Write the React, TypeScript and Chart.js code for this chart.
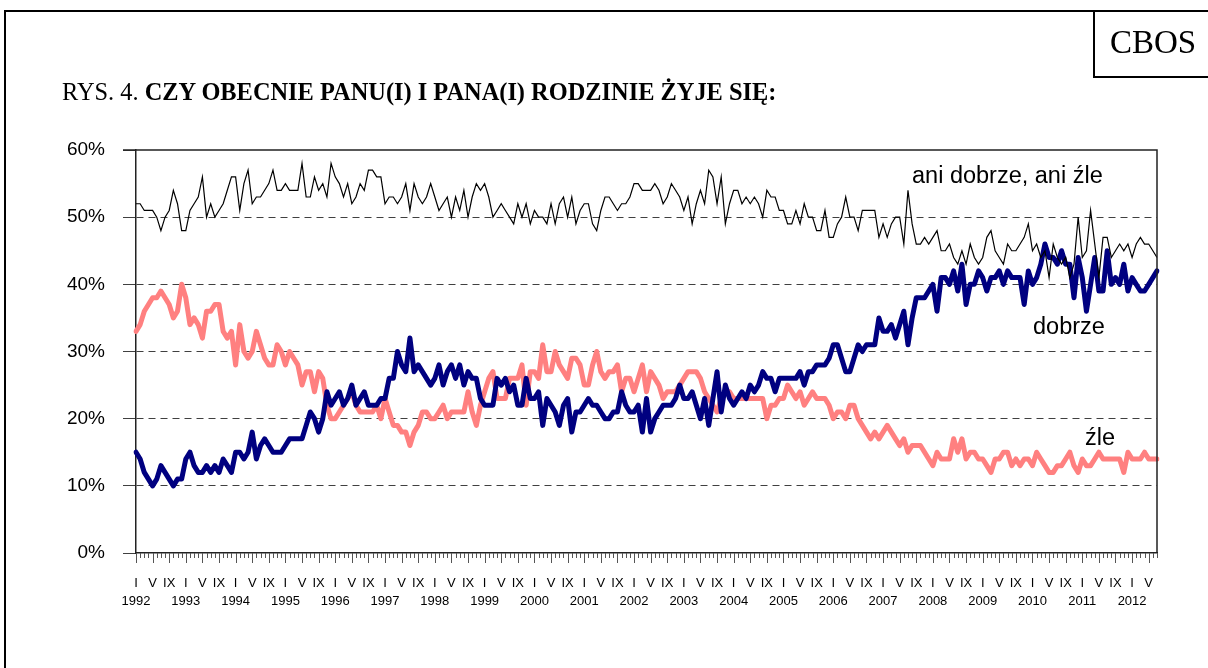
import React, { useEffect, useRef } from 'react';
import { Chart, registerables } from 'chart.js';

Chart.register(...registerables);

const SANS = '"Liberation Sans", Arial, sans-serif';
const SERIF = '"Liberation Serif", "Times New Roman", serif';

const YEARS = ['1992', '1993', '1994', '1995', '1996', '1997', '1998', '1999', '2000', '2001', '2002',
  '2003', '2004', '2005', '2006', '2007', '2008', '2009', '2010', '2011', '2012'];
const MONTH_MARKS = ['I', '', '', '', 'V', '', '', '', 'IX', '', '', ''];
const MONTH_COUNT = 247; // I 1992 .. VII 2012

// "dobrze" (%)
const DOBRZE = [
  15, 14, 12, 11, 10, 11, 13, 12, 11, 10, 11, 11,
  14, 15, 13, 12, 12, 13, 12, 13, 12, 14, 13, 12,
  15, 15, 14, 15, 18, 14, 16, 17, 16, 15, 15, 15,
  16, 17, 17, 17, 17, 19, 21, 20, 18, 20, 24, 22,
  23, 24, 22, 23, 25, 22, 23, 24, 22, 22, 22, 23,
  23, 26, 26, 30, 28, 27, 32, 27, 28, 27, 26, 25,
  26, 28, 25, 27, 28, 26, 28, 25, 27, 26, 26, 23,
  22, 22, 22, 26, 25, 26, 24, 25, 22, 22, 26, 23,
  23, 24, 19, 23, 22, 21, 19, 22, 23, 18, 21, 21,
  22, 23, 22, 22, 21, 20, 20, 21, 21, 24, 22, 21,
  21, 22, 18, 23, 18, 20, 21, 22, 22, 22, 23, 25,
  23, 23, 24, 22, 20, 23, 19, 23, 27, 21, 25, 23,
  22, 23, 24, 23, 25, 24, 25, 27, 26, 26, 24, 26,
  26, 26, 26, 26, 27, 25, 27, 27, 28, 28, 28, 29,
  31, 31, 29, 27, 27, 29, 31, 30, 31, 31, 31, 35,
  33, 33, 34, 32, 34, 36, 31, 35, 38, 38, 38, 39,
  40, 36, 41, 41, 40, 42, 39, 43, 37, 40, 40, 42,
  41, 39, 41, 41, 42, 40, 42, 41, 41, 41, 37, 42,
  40, 41, 43, 46, 44, 44, 43, 45, 43, 43, 38, 44,
  41, 36, 40, 44, 39, 39, 45, 40, 41, 40, 43, 39,
  41, 40, 39, 39, 40, 41, 42,
];

// "źle" (%)
const ZLE = [
  33, 34, 36, 37, 38, 38, 39, 38, 37, 35, 36, 40,
  38, 34, 35, 34, 32, 36, 36, 37, 37, 33, 32, 33,
  28, 34, 30, 29, 30, 33, 31, 29, 28, 28, 31, 30,
  28, 30, 29, 28, 25, 27, 27, 24, 27, 26, 22, 20,
  20, 21, 22, 23, 24, 22, 21, 21, 21, 21, 22, 20,
  23, 21, 19, 19, 18, 18, 16, 18, 19, 21, 21, 20,
  20, 21, 22, 20, 21, 21, 21, 21, 24, 21, 19, 22,
  24, 26, 27, 23, 23, 23, 26, 26, 26, 28, 22, 27,
  27, 26, 31, 27, 27, 30, 28, 27, 26, 29, 29, 28,
  25, 25, 28, 30, 27, 26, 27, 27, 28, 24, 26, 26,
  24, 26, 28, 24, 27, 26, 25, 23, 24, 24, 24, 25,
  26, 27, 27, 27, 26, 24, 23, 22, 21, 23, 24, 24,
  23, 23, 23, 23, 23, 23, 23, 23, 20, 22, 22, 23,
  23, 25, 24, 23, 24, 22, 23, 24, 23, 23, 23, 22,
  20, 21, 21, 20, 22, 22, 20, 19, 18, 17, 18, 17,
  18, 19, 18, 17, 16, 17, 15, 16, 16, 16, 15, 14,
  13, 15, 14, 14, 14, 17, 15, 17, 14, 15, 15, 14,
  14, 13, 12, 14, 14, 15, 15, 13, 14, 13, 14, 14,
  13, 15, 14, 13, 12, 12, 13, 13, 14, 15, 13, 12,
  14, 13, 13, 14, 15, 14, 14, 14, 14, 14, 12, 15,
  14, 14, 14, 15, 14, 14, 14,
];

// "ani dobrze, ani źle" (%)
const ANI = [
  52, 52, 51, 51, 51, 50, 48, 50, 51, 54, 52, 48,
  48, 51, 52, 53, 56, 50, 52, 50, 51, 52, 54, 56,
  56, 51, 55, 57, 52, 53, 53, 54, 55, 57, 54, 54,
  55, 54, 54, 54, 58, 53, 53, 56, 54, 55, 53, 58,
  56, 55, 53, 55, 52, 53, 55, 54, 57, 57, 56, 56,
  52, 53, 53, 52, 53, 55, 51, 55, 53, 52, 53, 55,
  53, 51, 52, 53, 50, 53, 51, 54, 50, 53, 55, 54,
  55, 53, 50, 51, 52, 51, 50, 49, 52, 50, 52, 49,
  51, 50, 50, 49, 52, 49, 52, 53, 50, 53, 49, 51,
  52, 52, 49, 48, 51, 53, 53, 52, 51, 52, 52, 53,
  55, 55, 54, 54, 54, 55, 54, 52, 53, 55, 54, 53,
  51, 53, 49, 52, 54, 52, 57, 56, 52, 56, 49, 52,
  54, 54, 52, 53, 52, 53, 52, 50, 54, 53, 53, 51,
  51, 49, 49, 51, 49, 52, 50, 50, 48, 48, 51, 47,
  47, 49, 50, 53, 50, 50, 48, 51, 51, 51, 51, 47,
  49, 47, 49, 50, 50, 46, 54, 49, 46, 46, 47, 46,
  47, 48, 45, 45, 46, 44, 43, 45, 43, 46, 44, 43,
  44, 47, 48, 45, 44, 43, 46, 45, 45, 46, 47, 49,
  45, 46, 44, 45, 41, 46, 44, 43, 44, 41, 43, 50,
  44, 45, 51, 46, 41, 47, 47, 44, 45, 46, 45, 46,
  44, 46, 47, 46, 46, 45, 44,
];

const LABELS = Array.from({ length: MONTH_COUNT }, (_, i) => `${MONTH_MARKS[i % 12] || i % 12 + 1} ${YEARS[Math.floor(i / 12)]}`);

const framePlugin = {
  id: 'frameAndTicks',
  afterDraw(chart: any) {
    const { ctx, chartArea } = chart;
    const xs = chart.scales.x;
    ctx.save();
    ctx.strokeStyle = '#555';
    ctx.lineWidth = 1;
    for (let i = 0; i < MONTH_COUNT; i++) {
      const x = Math.round(xs.getPixelForValue(i)) + 0.5;
      const len = i % 4 === 0 ? 10 : 5;
      ctx.beginPath();
      ctx.moveTo(x, chartArea.bottom);
      ctx.lineTo(x, chartArea.bottom + len);
      ctx.stroke();
    }
    ctx.strokeStyle = '#222';
    ctx.lineWidth = 1.5;
    ctx.beginPath();
    ctx.moveTo(chartArea.left - 13, chartArea.top);
    ctx.lineTo(chartArea.right, chartArea.top);
    ctx.lineTo(chartArea.right, chartArea.bottom);
    ctx.stroke();
    ctx.restore();
  },
};

export default function App() {
  const ref = useRef<HTMLCanvasElement | null>(null);

  useEffect(() => {
    if (!ref.current) return;
    const chart = new Chart(ref.current, {
      type: 'line',
      data: {
        labels: LABELS,
        datasets: [
          {
            label: 'ani dobrze, ani źle',
            data: ANI,
            borderColor: '#000000',
            borderWidth: 1.2,
            pointRadius: 0,
            tension: 0,
            order: 0,
          },
          {
            label: 'dobrze',
            data: DOBRZE,
            borderColor: '#000080',
            borderWidth: 5,
            pointRadius: 0,
            tension: 0,
            borderJoinStyle: 'round',
            borderCapStyle: 'round',
            order: 1,
          },
          {
            label: 'źle',
            data: ZLE,
            borderColor: '#FF8080',
            borderWidth: 5,
            pointRadius: 0,
            tension: 0,
            borderJoinStyle: 'round',
            borderCapStyle: 'round',
            order: 2,
          },
        ],
      },
      options: {
        animation: false,
        responsive: false,
        layout: { padding: { left: 0, top: 150, right: 51, bottom: 0 } },
        plugins: { legend: { display: false }, tooltip: { enabled: false } },
        scales: {
          x: {
            type: 'category',
            offset: false,
            grid: {
              display: true,
              drawOnChartArea: false,
              drawTicks: true,
              tickLength: 10,
              tickColor: 'rgba(0,0,0,0)',
            },
            border: { display: true, color: '#222', width: 1.5 },
            ticks: {
              autoSkip: false,
              maxRotation: 0,
              minRotation: 0,
              padding: 12,
              color: '#000',
              font: { family: SANS, size: 13, lineHeight: 1.33 },
              callback: (_v: any, index: number) => {
                const m = index % 12;
                if (m === 0) return [MONTH_MARKS[0], YEARS[index / 12]];
                return MONTH_MARKS[m];
              },
            },
            afterFit: (s: any) => {
              s.height = 115;
            },
          },
          y: {
            min: 0,
            max: 60,
            ticks: {
              stepSize: 10,
              padding: 18,
              color: '#000',
              font: { family: SANS, size: 19 },
              callback: (v: any) => `${v}%`,
            },
            grid: {
              color: (c: any) => (c.tick && (c.tick.value === 0 || c.tick.value === 60) ? 'rgba(0,0,0,0)' : '#404040'),
              lineWidth: 1,
              tickLength: 13,
              tickColor: '#404040',
              tickBorderDash: [],
            },
            border: { display: true, color: '#222', width: 1.5, dash: [7, 5] },
            afterFit: (s: any) => {
              s.width = 136;
            },
          },
        },
      },
      plugins: [framePlugin],
    } as any);
    return () => chart.destroy();
  }, []);

  const abs: React.CSSProperties = { position: 'absolute', whiteSpace: 'nowrap' };

  return (
    <div style={{ position: 'fixed', left: 0, top: 0, width: 1208, height: 668, background: '#fff', overflow: 'hidden' }}>
      <canvas ref={ref} width={1208} height={668} style={{ position: 'absolute', left: 0, top: 0, width: 1208, height: 668 }} />
      <div style={{ ...abs, left: 4, top: 10, width: 1210, height: 700, borderLeft: '2px solid #000', borderTop: '2px solid #000' }} />
      <div style={{ ...abs, left: 1093, top: 10, width: 120, height: 64, borderLeft: '2px solid #000', borderBottom: '2px solid #000', borderTop: '2px solid #000' }} />
      <div style={{ ...abs, left: 1110, top: 26, fontFamily: SERIF, fontSize: 33, lineHeight: '33px', color: '#000' }}>CBOS</div>
      <div style={{ ...abs, left: 62, top: 80, fontFamily: SERIF, fontSize: 24.4, lineHeight: '24px', color: '#000' }}>
        RYS. 4. <b>CZY OBECNIE PANU(I) I PANA(I) RODZINIE ŻYJE SIĘ:</b>
      </div>
      <div style={{ ...abs, left: 912, top: 164, fontFamily: SANS, fontSize: 23.5, lineHeight: '23.5px', color: '#000' }}>ani dobrze, ani źle</div>
      <div style={{ ...abs, left: 1033, top: 315, fontFamily: SANS, fontSize: 23.5, lineHeight: '23.5px', color: '#000' }}>dobrze</div>
      <div style={{ ...abs, left: 1085, top: 426, fontFamily: SANS, fontSize: 23.5, lineHeight: '23.5px', color: '#000' }}>źle</div>
    </div>
  );
}
